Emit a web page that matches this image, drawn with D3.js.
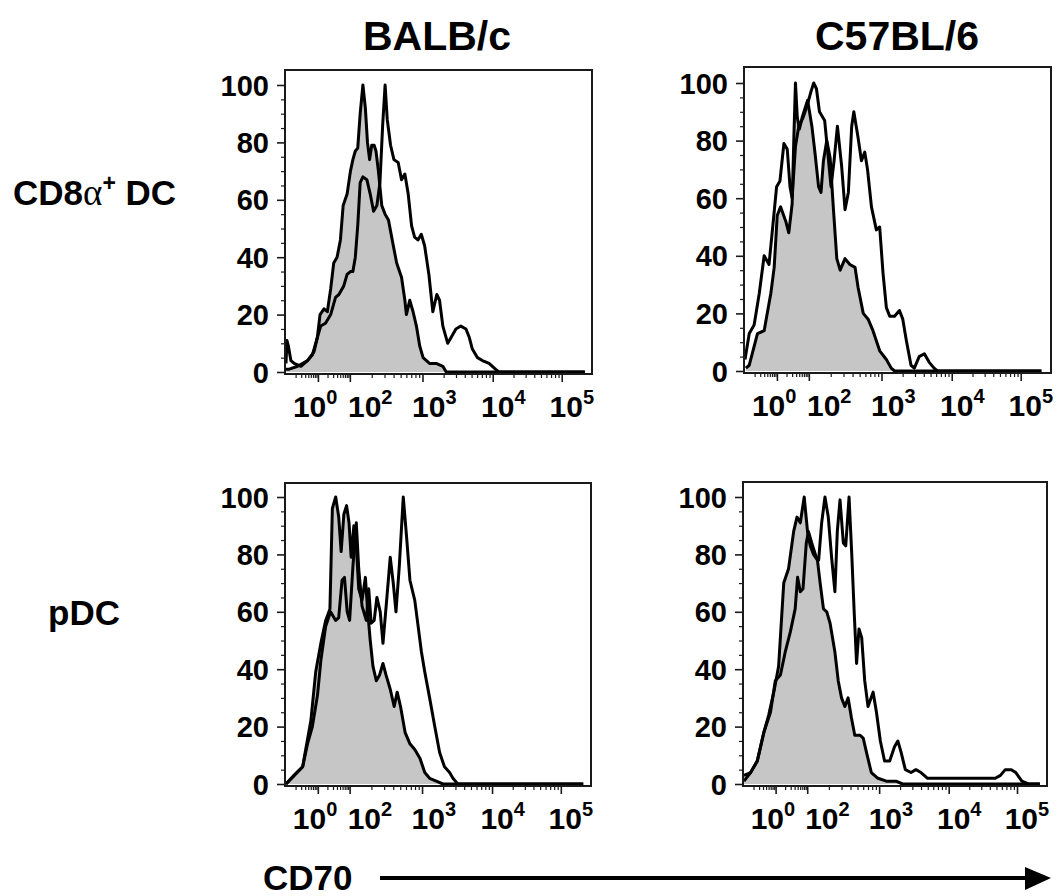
<!DOCTYPE html>
<html>
<head>
<meta charset="utf-8">
<script src="https://cdn.jsdelivr.net/npm/d3@7/dist/d3.min.js"></script>
<style>
  html, body { margin: 0; padding: 0; background: #fff; }
  svg { display: block; }
  text { font-family: "Liberation Sans", Arial, sans-serif; font-weight: bold; fill: #000; }
</style>
</head>
<body>
<svg id="chart" width="1060" height="896"></svg>
<script>
// ---------------- DATA ----------------
// x = display channel (0–1000 across the biexponential CD70 axis), y = % of max
const columnTitles = ["BALB/c", "C57BL/6"];
const rowTitles = ["CD8α⁺ DC", "pDC"];
const axisTitle = "CD70";

const yTicks = [0, 20, 40, 60, 80, 100];
const yMinorStep = 5;
const xTickChannels = [105, 210, 449, 680, 907];
const xTickExponents = ["0", "2", "3", "4", "5"];
const xLabelChannels = [96, 277, 488, 715, 940];

// BALB/c, CD8α+ DC
const balbCD8Ctrl = [[0,1],[11,1],[38,2],[71,4],[92,7],[103,12],[112,20],[125,22],[136,21],[147,29],[157,38],[168,40],[179,46],[188,58],[201,62],[212,70],[220,74],[228,77],[236,78],[244,90],[253,100],[261,92],[268,80],[275,74],[282,79],[290,79],[296,77],[304,70],[315,58],[326,55],[337,53],[353,44],[364,38],[380,33],[391,25],[396,20],[407,25],[418,21],[429,16],[440,9],[451,5],[472,3],[494,3],[516,2],[527,0],[983,0]];
const balbCD8CD70 = [[0,3],[3,11],[8,9],[16,4],[27,3],[49,2],[71,4],[87,6],[114,16],[130,17],[147,20],[163,26],[174,27],[190,30],[201,34],[212,35],[220,35],[228,40],[236,51],[244,66],[253,68],[266,67],[277,62],[288,56],[299,58],[309,66],[318,86],[326,100],[333,88],[344,79],[355,74],[369,73],[380,67],[391,69],[402,62],[413,51],[423,47],[434,46],[445,48],[456,44],[470,34],[483,21],[496,27],[505,25],[516,16],[532,10],[543,12],[559,15],[575,16],[592,15],[603,12],[613,8],[630,5],[646,4],[668,3],[689,1],[700,0],[983,0]];

// C57BL/6, CD8α+ DC
const b6CD8Ctrl = [[3,1],[14,2],[41,13],[63,14],[85,27],[96,36],[106,54],[117,57],[134,52],[144,48],[155,58],[161,82],[166,100],[172,88],[179,84],[188,88],[206,94],[220,85],[231,75],[242,64],[250,62],[258,73],[269,80],[280,74],[291,56],[302,39],[313,35],[329,39],[345,37],[362,36],[372,29],[389,20],[405,18],[421,14],[443,7],[465,4],[481,1],[492,0],[975,0]];
const b6CD8CD70 = [[0,4],[14,13],[30,16],[47,27],[63,40],[79,37],[93,52],[104,64],[115,66],[128,79],[139,77],[148,64],[155,60],[166,78],[177,85],[191,88],[204,92],[217,97],[226,100],[235,98],[245,90],[262,87],[273,75],[283,64],[293,73],[304,85],[318,71],[329,56],[340,62],[351,85],[358,90],[372,81],[383,73],[394,76],[403,70],[416,57],[432,49],[443,50],[454,34],[465,22],[476,19],[492,19],[508,21],[519,18],[530,11],[546,2],[557,1],[573,5],[590,6],[606,3],[622,1],[633,0],[975,0]];

// BALB/c, pDC
const balbPdcCtrl = [[0,0],[27,3],[55,6],[65,12],[82,22],[98,39],[115,49],[131,57],[145,61],[153,96],[164,100],[174,93],[182,81],[191,94],[200,97],[208,91],[215,79],[224,90],[232,83],[240,68],[251,64],[262,72],[269,61],[278,50],[287,41],[298,36],[309,38],[320,42],[330,38],[344,33],[357,27],[367,32],[378,27],[393,18],[409,14],[425,12],[442,9],[458,4],[474,2],[496,1],[518,0],[981,0]];
const balbPdcCD70 = [[0,0],[27,3],[55,6],[71,14],[87,20],[104,31],[115,43],[131,55],[147,60],[164,57],[174,58],[185,71],[193,72],[202,60],[210,57],[221,76],[232,91],[240,75],[251,62],[265,57],[273,68],[281,56],[291,57],[300,65],[311,60],[320,49],[333,65],[344,79],[354,70],[363,60],[374,76],[387,100],[398,86],[409,71],[425,64],[436,55],[447,46],[458,39],[474,30],[491,20],[507,11],[523,6],[540,4],[551,2],[567,0],[981,0]];

// C57BL/6, pDC
const b6PdcCtrl = [[0,3],[22,4],[44,8],[66,18],[82,24],[99,32],[115,41],[132,70],[148,75],[165,88],[176,93],[187,91],[200,100],[211,88],[220,83],[231,80],[244,78],[253,70],[264,61],[275,60],[286,56],[302,46],[313,36],[324,30],[335,27],[346,30],[357,23],[368,17],[385,17],[396,16],[407,11],[423,4],[445,2],[473,1],[505,1],[527,0],[983,0]];
const b6PdcCD70 = [[0,1],[22,4],[44,8],[66,18],[88,25],[104,36],[121,38],[137,46],[154,53],[170,61],[178,72],[187,67],[196,68],[207,84],[214,88],[225,84],[240,79],[248,78],[258,91],[269,100],[280,93],[291,79],[302,67],[310,88],[319,99],[330,84],[338,83],[349,100],[358,80],[366,60],[374,42],[382,54],[391,51],[401,36],[412,27],[429,32],[440,25],[453,15],[467,8],[484,8],[500,13],[511,15],[522,11],[536,5],[555,4],[571,5],[588,4],[610,2],[835,2],[852,3],[868,5],[888,5],[903,4],[923,1],[945,0],[983,0]];

// ---------------- LAYOUT ----------------
const panels = [
  { left: 285, width: 307, top: 70,  bottom: 374, y0: 372, y100: 85,  ctrl: balbCD8Ctrl, cd70: balbCD8CD70 },
  { left: 744, width: 307, top: 67,  bottom: 373, y0: 371, y100: 83,  ctrl: b6CD8Ctrl,   cd70: b6CD8CD70 },
  { left: 285, width: 306, top: 483, bottom: 786, y0: 784, y100: 497, ctrl: balbPdcCtrl, cd70: balbPdcCD70 },
  { left: 743, width: 304, top: 482, bottom: 786, y0: 784, y100: 497, ctrl: b6PdcCtrl,   cd70: b6PdcCD70 }
];

const svg = d3.select("#chart");

// minor x tick channels (log-like spacing within each segment)
function minorXTicks() {
  const bounds = [0].concat(xTickChannels).concat([1000]);
  const out = [];
  for (let i = 0; i < bounds.length - 1; i++) {
    const a = bounds[i], b = bounds[i + 1];
    if (i === bounds.length - 2) continue;
    for (let k = 2; k <= 9; k++) out.push(a + Math.log10(k) * (b - a));
  }
  return out;
}
const xMinor = minorXTicks();
const yMinor = d3.range(0, 101, yMinorStep).filter(v => yTicks.indexOf(v) < 0);

panels.forEach(p => {
  const x = d3.scaleLinear().domain([0, 1000]).range([p.left + 1, p.left + p.width - 2]);
  const y = d3.scaleLinear().domain([0, 100]).range([p.y0, p.y100]);
  const g = svg.append("g");

  const area = d3.area().x(d => x(d[0])).y0(y(0)).y1(d => y(d[1])).curve(d3.curveLinear);
  const line = d3.line().x(d => x(d[0])).y(d => y(d[1])).curve(d3.curveLinear);

  g.append("path").datum(p.ctrl).attr("d", area).attr("fill", "#c6c6c6").attr("stroke", "none");
  g.append("path").datum(p.ctrl).attr("d", line).attr("fill", "none")
    .attr("stroke", "#000").attr("stroke-width", 3).attr("stroke-linejoin", "round");
  g.append("path").datum(p.cd70).attr("d", line).attr("fill", "none")
    .attr("stroke", "#000").attr("stroke-width", 3).attr("stroke-linejoin", "round");

  // frame
  g.append("rect").attr("x", p.left).attr("y", p.top)
    .attr("width", p.width).attr("height", p.bottom - p.top)
    .attr("fill", "none").attr("stroke", "#1a1a1a").attr("stroke-width", 2);

  // y axis
  const yAxis = d3.axisLeft(y).tickValues(yTicks).tickSize(8).tickPadding(8).tickFormat(d3.format("d"));
  const ya = g.append("g").attr("transform", `translate(${p.left},0)`).call(yAxis);
  ya.select(".domain").remove();
  ya.selectAll(".tick line").attr("stroke", "#1a1a1a").attr("stroke-width", 1.6);
  ya.selectAll(".tick text").attr("font-size", 29).attr("font-weight", "bold")
    .attr("font-family", "'Liberation Sans', Arial, sans-serif").attr("fill", "#000")
    .attr("dy", "0.35em").attr("x", -16);
  const yMin = d3.axisLeft(y).tickValues(yMinor).tickSize(4).tickFormat("");
  const ym = g.append("g").attr("transform", `translate(${p.left},0)`).call(yMin);
  ym.select(".domain").remove();
  ym.selectAll(".tick line").attr("stroke", "#1a1a1a").attr("stroke-width", 1.2);

  // x axis
  const xAxis = d3.axisBottom(x).tickValues(xTickChannels).tickSize(8).tickFormat("");
  const xa = g.append("g").attr("transform", `translate(0,${p.bottom})`).call(xAxis);
  xa.select(".domain").remove();
  xa.selectAll(".tick line").attr("stroke", "#1a1a1a").attr("stroke-width", 1.6);
  const xMin = d3.axisBottom(x).tickValues(xMinor).tickSize(4).tickFormat("");
  const xm = g.append("g").attr("transform", `translate(0,${p.bottom})`).call(xMin);
  xm.select(".domain").remove();
  xm.selectAll(".tick line").attr("stroke", "#1a1a1a").attr("stroke-width", 1.2);

  // x labels 10^n
  const lab = g.append("g").selectAll("text").data(xTickExponents).join("text")
    .attr("x", (d, i) => x(xLabelChannels[i]))
    .attr("y", p.bottom + 43)
    .attr("text-anchor", "middle")
    .attr("font-size", 30);
  lab.append("tspan").text("10");
  lab.append("tspan").attr("dy", -13).attr("font-size", 20).text(d => d);
});

// column titles
const colCenters = [437, 897];
svg.selectAll("text.col").data(columnTitles).join("text").attr("class", "col")
  .attr("x", (d, i) => colCenters[i]).attr("y", 50)
  .attr("text-anchor", "middle").attr("font-size", 41).text(d => d);

// row titles
const r1 = svg.append("text").attr("x", 13).attr("y", 205).attr("font-size", 35);
r1.append("tspan").text("CD8");
r1.append("tspan").attr("font-family", "'Liberation Serif', 'Times New Roman', serif")
  .attr("font-weight", "normal").attr("font-size", 37).text("α");
r1.append("tspan").attr("font-size", 23).attr("dy", -14).text("+");
r1.append("tspan").attr("dy", 14).text(" DC");

svg.append("text").attr("x", 48).attr("y", 625).attr("font-size", 35).text(rowTitles[1]);

// CD70 axis title with arrow
svg.append("text").attr("x", 263).attr("y", 890).attr("font-size", 35).text(axisTitle);
svg.append("line").attr("x1", 380).attr("x2", 1028).attr("y1", 878).attr("y2", 878)
  .attr("stroke", "#000").attr("stroke-width", 4);
svg.append("path").attr("d", d3.line()([[1025, 867], [1051, 878], [1025, 890]]) + "Z").attr("fill", "#000");
</script>
</body>
</html>
